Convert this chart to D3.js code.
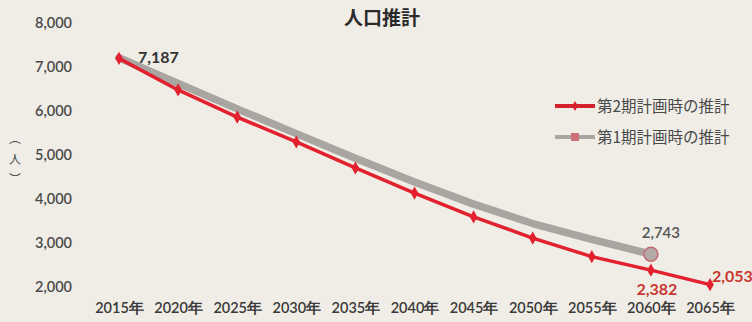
<!DOCTYPE html>
<html><head><meta charset="utf-8">
<script src="https://cdn.jsdelivr.net/npm/d3@7"></script>
<style>
html,body{margin:0;padding:0;background:#efede6;}
svg{display:block;}
</style></head><body>
<svg id="c" width="752" height="322"></svg>
<script>
const years = [2015,2020,2025,2030,2035,2040,2045,2050,2055,2060,2065];
const yearLabels = years.map(y => y + "年");
const plan2 = [7187,6470,5855,5290,4700,4130,3590,3110,2690,2382,2053];
const plan1Years = [2015,2020,2025,2030,2035,2040,2045,2050,2055,2060];
const plan1 = [7200,6620,6040,5480,4920,4380,3880,3440,3080,2743];
const yTicks = [2000,3000,4000,5000,6000,7000,8000];
const seriesNames = ["第2期計画時の推計","第1期計画時の推計"];
const title = "人口推計";
const yUnit = ["︵","人","︶"];

const svg = d3.select("#c");
const x = d3.scaleLinear().domain([2015,2065]).range([119,710]);
const y = d3.scaleLinear().domain([2000,8000]).range([287,22.5]);
const fmt = d3.format(",");
const numFont = "Lato, 'Open Sans', sans-serif";
const jpFont = "'Noto Sans CJK JP', sans-serif";

svg.append("rect").attr("width",752).attr("height",322).attr("fill","#efede6");

// title
svg.append("text").attr("x",382).attr("y",25).attr("text-anchor","middle")
  .attr("font-family",jpFont).attr("font-weight","bold").attr("font-size",19)
  .attr("fill","#2a2a2a").text(title);

// y axis
const yAxis = d3.axisLeft(y).tickValues(yTicks).tickFormat(fmt).tickSize(0).tickPadding(0);
const gy = svg.append("g").attr("transform","translate(72,0)").call(yAxis);
gy.select(".domain").remove();
gy.selectAll("text").attr("font-family",numFont).attr("font-size",14.5).attr("font-weight","600").attr("fill","#4a4a4a");

// y unit (vertical)
svg.selectAll(".unit").data(yUnit).enter().append("text")
  .attr("x",15).attr("y",(d,i)=>[140,161,181][i]).attr("text-anchor","middle")
  .attr("dominant-baseline","middle")
  .attr("font-family",jpFont).attr("font-size",12).attr("fill","#4a4a4a").text(d=>d);

// x axis
const xAxis = d3.axisBottom(x).tickValues(years).tickFormat((d,i)=>yearLabels[i]).tickSize(0).tickPadding(0);
const gx = svg.append("g").attr("transform","translate(0,303)").call(xAxis);
gx.select(".domain").remove();
gx.selectAll("text").attr("font-family",numFont).attr("font-size",14.5).attr("font-weight","600").attr("fill","#3a3a3a");

// gray line (plan 1)
const line = d3.line().x(d=>x(d[0])).y(d=>y(d[1]));
const p1 = plan1Years.map((yr,i)=>[yr,plan1[i]]);
svg.append("path").datum(p1).attr("d",line).attr("fill","none")
  .attr("stroke","#a9a5a1").attr("stroke-width",7.5).attr("stroke-linecap","round").attr("stroke-linejoin","round");
const last1 = p1[p1.length-1];
svg.append("circle").attr("cx",x(last1[0])).attr("cy",y(last1[1])).attr("r",7)
  .attr("fill","#b3aaa8").attr("stroke","#c46a6e").attr("stroke-width",1.5);

// red line (plan 2)
const p2 = years.map((yr,i)=>[yr,plan2[i]]);
svg.append("path").datum(p2).attr("d",line).attr("fill","none")
  .attr("stroke","#e2202e").attr("stroke-width",3.5).attr("stroke-linejoin","round");
svg.selectAll(".m2").data(p2).enter().append("path")
  .attr("transform",d=>`translate(${x(d[0])},${y(d[1])})`)
  .attr("d",d3.symbol().type(d3.symbolDiamond).size(50)).attr("fill","#e2202e");

// data labels
svg.append("text").attr("x",x(2015)+19).attr("y",y(plan2[0])+5)
  .attr("font-family",numFont).attr("font-weight","bold").attr("font-size",16).attr("fill","#333").text(fmt(plan2[0]));
svg.append("text").attr("x",x(2060)+10).attr("y",y(last1[1])-16).attr("text-anchor","middle")
  .attr("font-family",numFont).attr("font-weight","600").attr("font-size",15).attr("fill","#555").text(fmt(last1[1]));
svg.append("text").attr("x",x(2060)+6).attr("y",y(plan2[9])+25).attr("text-anchor","middle")
  .attr("font-family",numFont).attr("font-weight","bold").attr("font-size",16).attr("fill","#c8372f").text(fmt(plan2[9]));
svg.append("text").attr("x",x(2065)+2).attr("y",y(plan2[10])-3)
  .attr("font-family",numFont).attr("font-weight","bold").attr("font-size",16).attr("fill","#c8372f").text(fmt(plan2[10]));

// legend
const lg = svg.append("g");
lg.append("line").attr("x1",555).attr("x2",595).attr("y1",106).attr("y2",106).attr("stroke","#d5202e").attr("stroke-width",4);
lg.append("path").attr("transform","translate(575,106)").attr("d",d3.symbol().type(d3.symbolDiamond).size(30)).attr("fill","#d5202e");
lg.append("text").attr("x",597).attr("y",112).attr("font-family",jpFont).attr("font-size",15.5).attr("fill","#4a4a4a").text(seriesNames[0]);
lg.append("line").attr("x1",555).attr("x2",595).attr("y1",137).attr("y2",137).attr("stroke","#a9a5a1").attr("stroke-width",4);
lg.append("rect").attr("x",571).attr("y",133).attr("width",8).attr("height",8).attr("fill","#cc6f78");
lg.append("text").attr("x",597).attr("y",143).attr("font-family",jpFont).attr("font-size",15.5).attr("fill","#4a4a4a").text(seriesNames[1]);
</script>
</body></html>
